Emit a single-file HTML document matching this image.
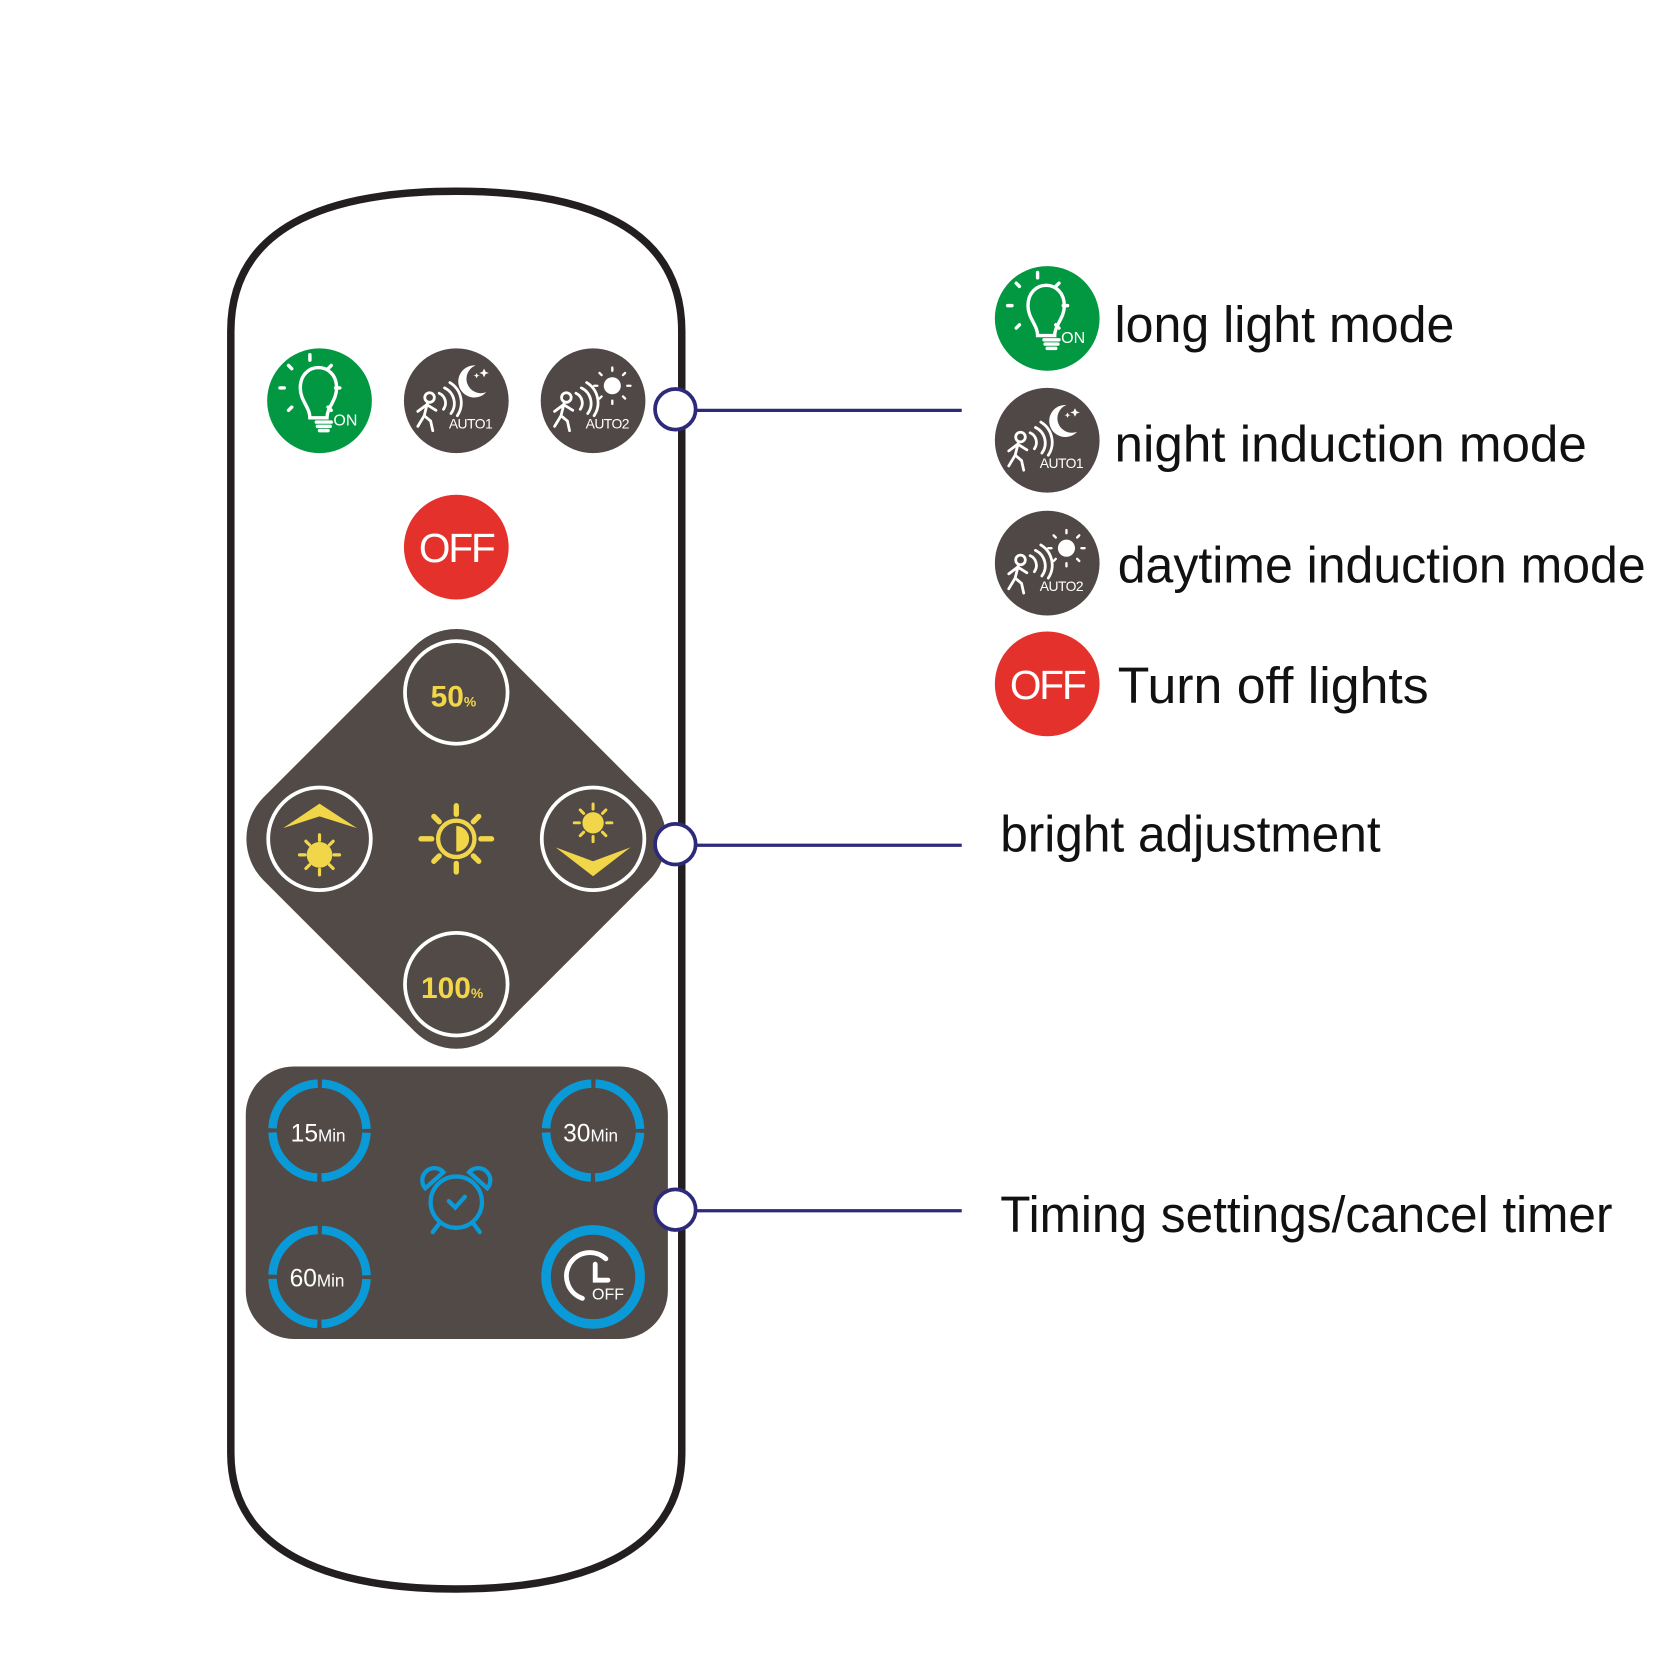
<!DOCTYPE html>
<html><head><meta charset="utf-8"><style>html,body{margin:0;padding:0;background:#fff}svg{display:block}</style></head>
<body>
<svg width="1667" height="1667" viewBox="0 0 1560 1560" xmlns="http://www.w3.org/2000/svg" font-family="Liberation Sans, Arial, sans-serif">
<defs>
  <g id="bulb">
    <circle r="49" fill="#029842"/>
    <g stroke="#fff" stroke-width="3.2" fill="none" stroke-linecap="round">
      <path d="M-17,16 C-17,6 -26,0 -26,-12 C-26,-24 -18,-31 -9,-31 C0,-31 8,-24 8,-12 C8,0 -1,6 -1,16 Z" transform="translate(8,0)"/>
      <line x1="-3" y1="20" x2="11" y2="20"/><line x1="-2" y1="24" x2="10" y2="24"/><line x1="0" y1="28" x2="8" y2="28"/>
      <line x1="-9" y1="-38" x2="-9" y2="-43"/>
      <line x1="-26" y1="-30" x2="-29" y2="-33"/><line x1="8" y1="-30" x2="11" y2="-33"/>
      <line x1="-33" y1="-12" x2="-37" y2="-12"/><line x1="15" y1="-12" x2="19" y2="-12"/>
      <line x1="-26" y1="6" x2="-29" y2="9"/><line x1="8" y1="6" x2="11" y2="9"/>
    </g>
    <text x="13" y="23" fill="#fff" font-size="15">ON</text>
  </g>
  <g id="walker" stroke="#fff" stroke-width="2.6" fill="none" stroke-linecap="round">
    <circle cx="-25" cy="-3" r="4.5"/>
    <path d="M-27,2 L-30,14 L-36,24 M-30,14 L-24,19 L-22,28 M-28,4 L-36,10 M-27,4 L-19,9"/>
    <path d="M-16,-7 A10,10 0 0 1 -12,8 M-11,-12 A16,16 0 0 1 -5,12 M-6,-17 A22,22 0 0 1 1,14"/>
  </g>
  <g id="auto1">
    <circle r="49" fill="#504846"/>
    <use href="#walker"/>
    <path d="M18,-33 A15,15 0 1 0 28,-8 A12,12 0 1 1 18,-33 Z" fill="#fff"/>
    <path d="M26,-30 l1.5,3 3,1 -3,1 -1.5,3 -1.5,-3 -3,-1 3,-1z M19,-26 l1,2 2,0.5 -2,0.5 -1,2 -1,-2 -2,-0.5 2,-0.5z" fill="#fff"/>
    <text x="-7" y="26" fill="#fff" font-size="13" letter-spacing="-0.5">AUTO1</text>
  </g>
  <g id="auto2">
    <circle r="49" fill="#504846"/>
    <use href="#walker"/>
    <circle cx="18" cy="-14" r="8" fill="#fff"/>
    <g stroke="#fff" stroke-width="2.2" stroke-linecap="round">
      <line x1="18" y1="-28" x2="18" y2="-31"/><line x1="18" y1="0" x2="18" y2="3"/>
      <line x1="4" y1="-14" x2="1" y2="-14"/><line x1="32" y1="-14" x2="35" y2="-14"/>
      <line x1="8" y1="-24" x2="6" y2="-26"/><line x1="28" y1="-24" x2="30" y2="-26"/>
      <line x1="8" y1="-4" x2="6" y2="-2"/><line x1="28" y1="-4" x2="30" y2="-2"/>
    </g>
    <text x="-7" y="26" fill="#fff" font-size="13" letter-spacing="-0.5">AUTO2</text>
  </g>
  <g id="off">
    <circle r="49" fill="#e5312b"/>
    <text x="0" y="14" fill="#fff" font-size="38" text-anchor="middle" letter-spacing="-2">OFF</text>
  </g>
  <g id="sunrays" stroke="#f1d64a" stroke-width="3.5" stroke-linecap="round">
    <line x1="0" y1="-16" x2="0" y2="-22"/><line x1="0" y1="16" x2="0" y2="22"/>
    <line x1="-16" y1="0" x2="-22" y2="0"/><line x1="16" y1="0" x2="22" y2="0"/>
    <line x1="-11" y1="-11" x2="-15" y2="-15"/><line x1="11" y1="-11" x2="15" y2="-15"/>
    <line x1="-11" y1="11" x2="-15" y2="15"/><line x1="11" y1="11" x2="15" y2="15"/>
  </g>
  <circle id="ring" r="44" fill="none" stroke="#0a9ad8" stroke-width="8" stroke-dasharray="65.1 4" stroke-dashoffset="-2"/>
</defs>

<!-- remote outline -->
<path d="M216,310 C216,205 320,179 427,179 C534,179 638,205 638,310 L638,1360 C638,1455 540,1487 427,1487 C314,1487 216,1455 216,1360 Z" fill="#fff" stroke="#231f20" stroke-width="7"/>

<use href="#bulb" x="299" y="375"/>
<use href="#auto1" x="427" y="375"/>
<use href="#auto2" x="555" y="375"/>
<use href="#off" x="427" y="512"/>

<!-- diamond -->
<rect x="272" y="630" width="310" height="310" rx="55" fill="#524a46" transform="rotate(45 427 785)"/>
<g fill="none" stroke="#fff" stroke-width="3.5">
  <circle cx="427" cy="648" r="48"/><circle cx="427" cy="921" r="48"/>
  <circle cx="299" cy="785" r="48"/><circle cx="555" cy="785" r="48"/>
</g>
<text x="403" y="661" fill="#f1d64a" font-size="28" font-weight="bold">50<tspan font-size="13">%</tspan></text>
<text x="394" y="934" fill="#f1d64a" font-size="28" font-weight="bold">100<tspan font-size="13">%</tspan></text>
<!-- center sun -->
<g transform="translate(427,785)">
  <circle r="17" fill="none" stroke="#f1d64a" stroke-width="4"/>
  <path d="M0,-12 A12,12 0 0 1 0,12 Z" fill="#f1d64a"/>
  <g stroke="#f1d64a" stroke-width="5" stroke-linecap="round">
    <line x1="0" y1="-23" x2="0" y2="-31"/><line x1="0" y1="23" x2="0" y2="31"/>
    <line x1="-23" y1="0" x2="-33" y2="0"/><line x1="23" y1="0" x2="33" y2="0"/>
    <line x1="-16" y1="-16" x2="-21" y2="-21"/><line x1="16" y1="-16" x2="21" y2="-21"/>
    <line x1="-16" y1="16" x2="-21" y2="21"/><line x1="16" y1="16" x2="21" y2="21"/>
  </g>
</g>
<!-- left: up chevron + sun -->
<path d="M265,775 L299,752 L334,775 L299,764 Z" fill="#f1d64a"/>
<circle cx="299" cy="800" r="12" fill="#f1d64a"/>
<use href="#sunrays" x="299" y="800" transform="translate(299,800) scale(0.85) translate(-299,-800)"/>
<!-- right: sun + down chevron -->
<circle cx="555" cy="770" r="10" fill="#f1d64a"/>
<use href="#sunrays" x="555" y="770" transform="translate(555,770) scale(0.8) translate(-555,-770)"/>
<path d="M520,793 L555,806 L590,793 L555,820 Z" fill="#f1d64a"/>

<!-- timer panel -->
<rect x="230" y="998" width="395" height="255" rx="45" fill="#524a46"/>
<use href="#ring" x="299" y="1058"/>
<use href="#ring" x="555" y="1058"/>
<use href="#ring" x="299" y="1195"/>
<circle cx="555" cy="1195" r="44" fill="none" stroke="#0a9ad8" stroke-width="9"/>
<text x="272" y="1068" fill="#fff" font-size="23">15<tspan font-size="16">Min</tspan></text>
<text x="527" y="1068" fill="#fff" font-size="23">30<tspan font-size="16">Min</tspan></text>
<text x="271" y="1204" fill="#fff" font-size="23">60<tspan font-size="16">Min</tspan></text>
<g transform="translate(555,1195)" fill="none" stroke="#fff" stroke-width="4.5" stroke-linecap="round">
  <path d="M12,-17 A22,22 0 1 0 -10,20"/>
  <path d="M2,-12 L2,3 L14,3"/>
</g>
<text x="554" y="1216" fill="#fff" font-size="15">OFF</text>
<!-- alarm clock -->
<g transform="translate(427,1125)" fill="none" stroke="#0a9ad8" stroke-width="4" stroke-linecap="round">
  <circle r="24"/>
  <path d="M-29,-13 A10,10 0 0 1 -12,-28 Z M29,-13 A10,10 0 0 0 12,-28 Z"/>
  <path d="M-7,-1 L-1,5 L8,-5"/>
  <line x1="-16" y1="20" x2="-22" y2="28"/><line x1="16" y1="20" x2="22" y2="28"/>
</g>

<!-- connectors -->
<g stroke="#2e2a7a" stroke-width="3">
  <line x1="650" y1="384" x2="900" y2="384"/>
  <line x1="650" y1="791" x2="900" y2="791"/>
  <line x1="650" y1="1133" x2="900" y2="1133"/>
  <circle cx="632" cy="383" r="19" fill="#fff" stroke-width="3.5"/>
  <circle cx="632" cy="790" r="19" fill="#fff" stroke-width="3.5"/>
  <circle cx="632" cy="1132" r="19" fill="#fff" stroke-width="3.5"/>
</g>

<!-- legend -->
<use href="#bulb" x="980" y="298"/>
<use href="#auto1" x="980" y="412"/>
<use href="#auto2" x="980" y="527"/>
<use href="#off" x="980" y="640"/>
<g fill="#111" font-size="48">
  <text x="1043" y="320" textLength="318" lengthAdjust="spacingAndGlyphs">long light mode</text>
  <text x="1043" y="432" textLength="442" lengthAdjust="spacingAndGlyphs">night induction mode</text>
  <text x="1046" y="545" textLength="494" lengthAdjust="spacingAndGlyphs">daytime induction mode</text>
  <text x="1046" y="658" textLength="291" lengthAdjust="spacingAndGlyphs">Turn off lights</text>
  <text x="936" y="797" textLength="356" lengthAdjust="spacingAndGlyphs">bright adjustment</text>
  <text x="936" y="1153" textLength="573" lengthAdjust="spacingAndGlyphs">Timing settings/cancel timer</text>
</g>
</svg>
</body></html>
